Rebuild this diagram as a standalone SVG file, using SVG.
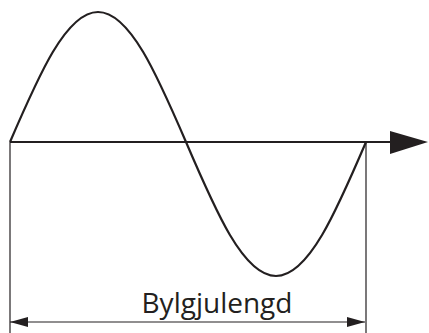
<svg xmlns="http://www.w3.org/2000/svg" width="429" height="333" viewBox="0 0 429 333">
<style>
.wave{fill:none;stroke:#231f20;stroke-width:2.2}
.axis{stroke:#231f20;stroke-width:2}
.thin{stroke:#231f20;stroke-width:1.2}
.lbl{font-family:"Open Sans","Noto Sans",sans-serif;font-size:28px;fill:#231f20}
</style>
<defs>
<marker id="ah" markerUnits="userSpaceOnUse" markerWidth="18" markerHeight="10" refX="18" refY="5" orient="auto-start-reverse">
<path d="M0,0 L18,5 L0,10 Z" fill="#231f20"/>
</marker>
</defs>
<g id="connectors">
<line class="axis" x1="10" y1="142" x2="392" y2="142"/>
<path d="M390,131 L428,142 L390,154 Z" fill="#231f20"/>
<line class="thin" x1="10" y1="142" x2="10" y2="333"/>
<line class="thin" x1="366" y1="142" x2="366" y2="333"/>
<line class="thin" x1="10" y1="322" x2="365" y2="322" marker-start="url(#ah)" marker-end="url(#ah)"/>
</g>
<g id="wave">
<path class="wave" d="M10,142 C38.7,75.4 66.15,12 98,12 C129.85,12 157.3,75.4 186,142 C215.35,210.6 243.43,276 276,276 C308.57,276 336.65,210.6 366,142"/>
</g>
<g id="label">
<text class="lbl" x="217" y="313" text-anchor="middle">Bylgjulengd</text>
</g>
</svg>
